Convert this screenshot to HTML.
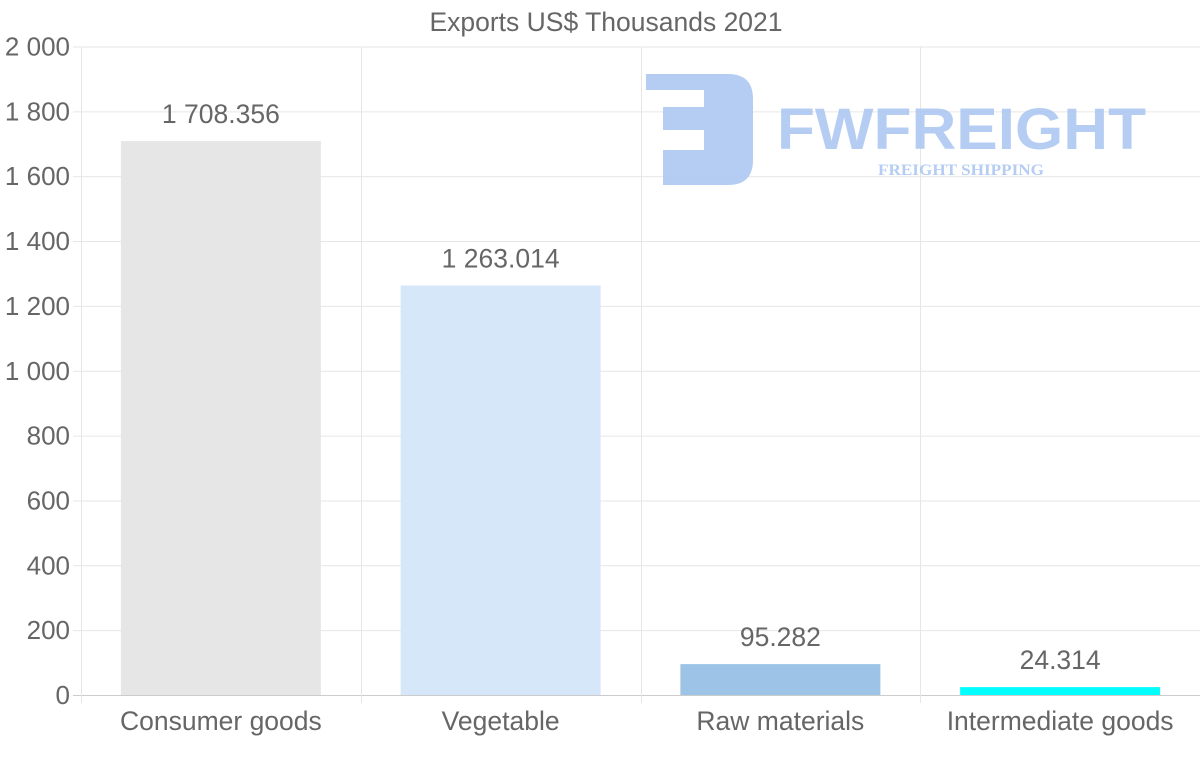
<!DOCTYPE html>
<html><head><meta charset="utf-8"><style>
body{margin:0;background:#fff;width:1200px;height:763px;overflow:hidden;font-family:"Liberation Sans",sans-serif}
</style></head><body>
<svg id="chart" width="1200" height="763" xmlns="http://www.w3.org/2000/svg">
<text x="606" y="31" text-anchor="middle" font-size="26.5" fill="#666">Exports US$ Thousands 2021</text>
<g id="grid"></g>
<g opacity="0.9">
<path d="M646 74 H728 Q753 74 753 99 V160 Q753 185 728 185 H663 V150 H704 V130 H663 V107 H704 V90 H646 Z" fill="#adc8f2"/>
<text x="777" y="149" font-size="58" font-weight="bold" fill="#adc8f2" textLength="369" lengthAdjust="spacingAndGlyphs">FWFREIGHT</text>
<text x="878" y="175" font-family="Liberation Serif,serif" font-size="16" font-weight="bold" fill="#adc8f2" textLength="166" lengthAdjust="spacingAndGlyphs">FREIGHT SHIPPING</text>
</g>
<g id="bars"></g>
</svg>
<script>
const categories=["Consumer goods","Vegetable","Raw materials","Intermediate goods"];
const values=[1708.356,1263.014,95.282,24.314];
const valueLabels=["1 708.356","1 263.014","95.282","24.314"];
const colors=["#e6e6e6","#d6e7fa","#9dc3e6","#00ffff"];
const yTicks=[0,200,400,600,800,1000,1200,1400,1600,1800,2000];
const yTickLabels=["0","200","400","600","800","1 000","1 200","1 400","1 600","1 800","2 000"];
const NS="http://www.w3.org/2000/svg";
const L=81,R=1200,T=46.5,B=695,yMax=2000;
const y=v=>B-(v/yMax)*(B-T);
const band=(R-L)/categories.length;
const x=i=>L+band*i;
function mk(tag,attrs,parent,text){const e=document.createElementNS(NS,tag);for(const k in attrs)e.setAttribute(k,attrs[k]);if(text!==undefined)e.textContent=text;parent.appendChild(e);return e;}
const g=document.getElementById('grid'),b=document.getElementById('bars');
yTicks.forEach((t,i)=>{
 const ln=mk('line',{x1:L-8,x2:R,y1:y(t)+0.5,y2:y(t)+0.5,stroke:t===0?'#ccc':'#e6e6e6','stroke-width':1},g);
 
 
 const tx=mk('text',{x:70,y:y(t)+9,'text-anchor':'end','font-size':26,fill:'#666'},g,yTickLabels[i]);
 
 
});
for(let i=0;i<=categories.length;i++){
 const ln=mk('line',{x1:Math.round(x(i))+0.5,x2:Math.round(x(i))+0.5,y1:T,y2:B+8,stroke:'#e6e6e6'},g);
 
 
}
categories.forEach((c,i)=>{
 const cx=x(i)+band/2,w=200;
 const r=mk('rect',{x:cx-w/2,y:y(values[i]),width:w,height:B-y(values[i]),fill:colors[i]},b);
 
 
 const vl=mk('text',{x:cx,y:y(values[i])-18,'text-anchor':'middle','font-size':26.5,fill:'#666'},b,valueLabels[i]);
 
 
 const cl=mk('text',{x:cx,y:730,'text-anchor':'middle','font-size':26.5,fill:'#666'},b,c);
 
 
});
</script>
</body></html>
